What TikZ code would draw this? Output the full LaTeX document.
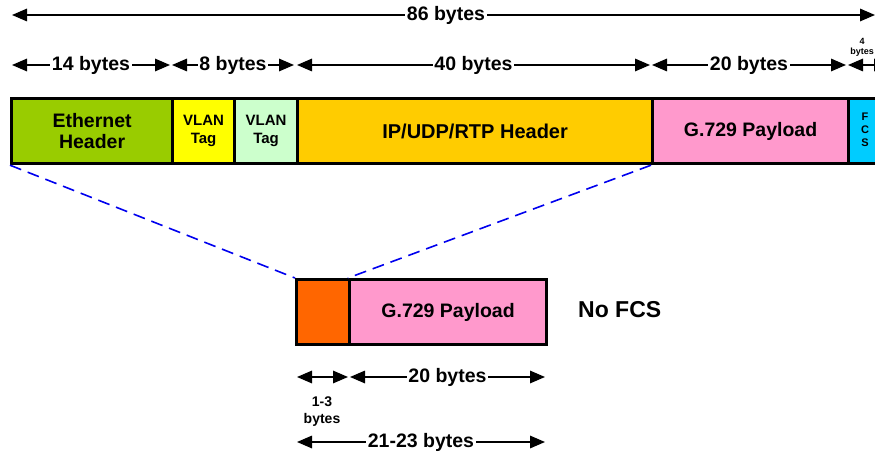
\documentclass[tikz,border=0pt]{standalone}
\usepackage{fontspec}
\setmainfont{Liberation Sans}
\usetikzlibrary{arrows.meta}
\definecolor{ethgreen}{HTML}{99CC00}
\definecolor{vlanyellow}{HTML}{FFFF00}
\definecolor{vlangreen}{HTML}{CCFFCC}
\definecolor{ipgold}{HTML}{FFCC00}
\definecolor{payloadpink}{HTML}{FF99CC}
\definecolor{fcsblue}{HTML}{00CCFF}
\definecolor{hdrorange}{HTML}{FF6600}
\definecolor{zoomblue}{HTML}{0000EE}
\tikzset{
  field/.style={draw=black, line width=3.2pt, anchor=north west, inner sep=0pt,
    align=center, minimum height=65pt},
  dimline/.style={line width=1.6pt, {Triangle[length=15pt,width=12.5pt]}-{Triangle[length=15pt,width=12.5pt]}},
  dimlabel/.style={fill=white, inner sep=1.5pt, font=\fontsize{19.5}{21}\selectfont\bfseries},
  zoomline/.style={zoomblue, line width=1.6pt, dash pattern=on 12pt off 7pt},
}
\begin{document}
\begin{tikzpicture}[x=1pt, y=-1pt]
\useasboundingbox (0,0) rectangle (875,454);
\clip (0,0) rectangle (875,454);

% frame fields
\node[field, fill=ethgreen, minimum width=161pt, font=\fontsize{19.5}{21}\selectfont\bfseries] (eth) at (10,97) {Ethernet\\Header};
\node[field, fill=vlanyellow, minimum width=62pt, font=\fontsize{15}{18}\selectfont\bfseries] (vlan1) at (171,97) {VLAN\\Tag};
\node[field, fill=vlangreen, minimum width=63pt, font=\fontsize{15}{18}\selectfont\bfseries] (vlan2) at (233,97) {VLAN\\Tag};
\node[field, fill=ipgold, minimum width=355pt, font=\fontsize{20}{22}\selectfont\bfseries] (ip) at (296,97) {IP/UDP/RTP Header};
\node[field, fill=payloadpink, minimum width=196pt, font=\fontsize{19.5}{21}\selectfont\bfseries] (pay) at (651,97) {G.729 Payload};
\node[field, fill=fcsblue, minimum width=42pt] (fcs) at (847,97) {};
\node[font=\fontsize{11}{13}\selectfont\bfseries, align=center, inner sep=0pt] (fcstext) at (865,130) {F\\C\\S};

% compressed packet
\node[field, fill=hdrorange, minimum width=53pt] (chdr) at (295,278) {};
\node[field, fill=payloadpink, minimum width=197pt, font=\fontsize{19.5}{21}\selectfont\bfseries] (cpay) at (348,278) {G.729 Payload};
\node[font=\fontsize{23}{26}\selectfont\bfseries, anchor=west, inner sep=0pt] (nofcs) at (578,310) {No FCS};

% expansion lines
\draw[zoomline] (eth.south west) -- (chdr.north west);
\draw[zoomline] (pay.south west) -- (cpay.north west);

% total length
\coordinate (t0) at (12,15);
\coordinate (t1) at (875,15);
\draw[dimline] (t0) -- (t1);
\node[dimlabel] (t86) at (446,15) {86 bytes};

% field lengths
\coordinate (a0) at (12,65);   \coordinate (a1) at (170,65);
\coordinate (b0) at (172,65);  \coordinate (b1) at (294,65);
\coordinate (c0) at (297,65);  \coordinate (c1) at (650,65);
\coordinate (d0) at (652,65);  \coordinate (d1) at (846,65);
\coordinate (e0) at (848,65);  \coordinate (e1) at (889,65);
\draw[dimline] (a0) -- node[dimlabel] (l14) {14 bytes} (a1);
\draw[dimline] (b0) -- node[dimlabel] (l8) {8 bytes} (b1);
\draw[dimline] (c0) -- node[dimlabel] (l40) {40 bytes} (c1);
\draw[dimline] (d0) -- node[dimlabel] (l20) {20 bytes} (d1);
\draw[dimline] (e0) -- (e1);
\node[font=\fontsize{9}{10}\selectfont\bfseries, align=center, inner sep=0pt] (l4) at (862,47) {4\\bytes};

% compressed lengths
\coordinate (f0) at (297,377); \coordinate (f1) at (348,377);
\coordinate (g0) at (350,377); \coordinate (g1) at (545,377);
\coordinate (h0) at (297,442); \coordinate (h1) at (545,442);
\draw[dimline] (f0) -- (f1);
\draw[dimline] (g0) -- node[dimlabel] (l20b) {20 bytes} (g1);
\node[font=\fontsize{14}{17}\selectfont\bfseries, align=center, inner sep=0pt] (l13) at (322,412) {1-3\\bytes};
\draw[dimline] (h0) -- node[dimlabel] (l2123) {21-23 bytes} (h1);
\end{tikzpicture}
\end{document}
